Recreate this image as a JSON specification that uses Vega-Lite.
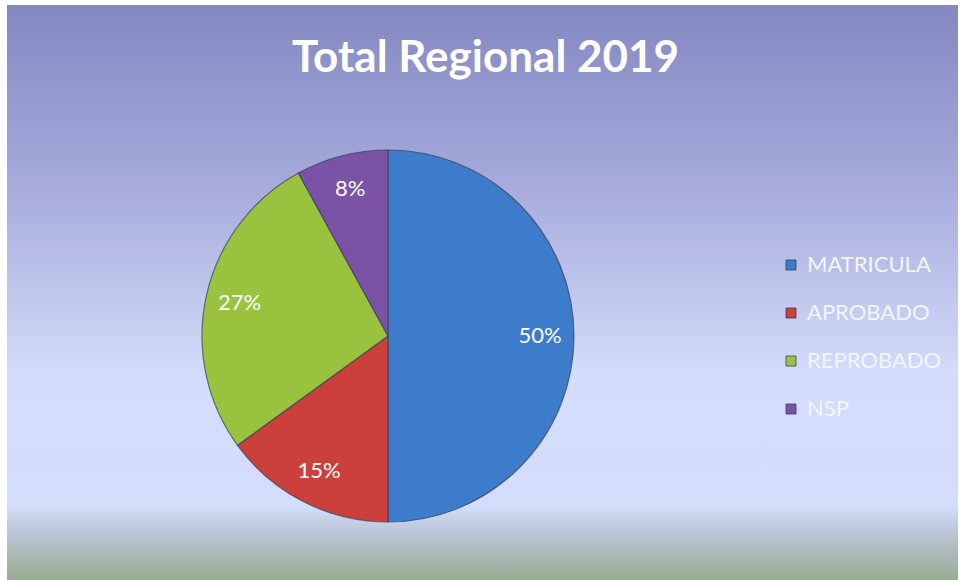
{
  "$schema": "https://vega.github.io/schema/vega-lite/v6.json",
  "width": 951,
  "height": 575,
  "autosize": {"type": "none"},
  "padding": {"left": 7, "top": 5, "right": 3, "bottom": 0},
  "background": "#ffffff",
  "config": {
    "view": {
      "stroke": null,
      "fill": {
        "gradient": "linear",
        "x1": 0, "y1": 0, "x2": 0, "y2": 1,
        "stops": [
          {"offset": 0, "color": "#8388C2"},
          {"offset": 0.29, "color": "#A3A8DA"},
          {"offset": 0.565, "color": "#C8D0F2"},
          {"offset": 0.64, "color": "#D3DCFC"},
          {"offset": 0.87, "color": "#D3DEFB"},
          {"offset": 0.913, "color": "#BCC8DA"},
          {"offset": 0.957, "color": "#AAB8B4"},
          {"offset": 1, "color": "#98AD94"}
        ]
      }
    }
  },
  "title": {
    "text": "Total Regional 2019",
    "font": "Lato",
    "fontSize": 44,
    "fontWeight": "bold",
    "color": "#ffffff",
    "anchor": "start",
    "frame": "group",
    "offset": -76,
    "dx": 285
  },
  "data": {
    "values": [
      {"categoria": "MATRICULA", "porcentaje": 50, "orden": 1},
      {"categoria": "APROBADO", "porcentaje": 15, "orden": 2},
      {"categoria": "REPROBADO", "porcentaje": 27, "orden": 3},
      {"categoria": "NSP", "porcentaje": 8, "orden": 4}
    ]
  },
  "encoding": {
    "theta": {"field": "porcentaje", "type": "quantitative", "stack": true},
    "order": {"field": "orden", "type": "quantitative"},
    "x": {"value": 381},
    "y": {"value": 331}
  },
  "layer": [
    {
      "mark": {"type": "arc", "outerRadius": 186, "stroke": "#3a3f5c", "strokeWidth": 1.2, "strokeOpacity": 0.7},
      "encoding": {
        "color": {
          "field": "categoria",
          "type": "nominal",
          "sort": ["MATRICULA", "APROBADO", "REPROBADO", "NSP"],
          "scale": {
            "domain": ["MATRICULA", "APROBADO", "REPROBADO", "NSP"],
            "range": ["#3D7CCA", "#CB403A", "#99C23F", "#7A52A6"]
          },
          "legend": {
            "title": null,
            "orient": "none",
            "legendX": 773,
            "legendY": 249,
            "symbolType": "square",
            "symbolSize": 100,
            "symbolStrokeColor": "#3a3f5c",
            "symbolStrokeWidth": 0.8,
            "labelFont": "Lato",
            "labelFontSize": 22,
            "labelColor": "#F4F6FF",
            "labelOffset": 5,
            "rowPadding": 26,
            "labelLimit": 300
          }
        }
      }
    },
    {
      "mark": {"type": "text", "radius": 152, "font": "Lato", "fontSize": 22, "color": "#ffffff"},
      "transform": [{"calculate": "datum.porcentaje + '%'", "as": "etiqueta"}],
      "encoding": {
        "text": {"field": "etiqueta", "type": "nominal"}
      }
    }
  ]
}
